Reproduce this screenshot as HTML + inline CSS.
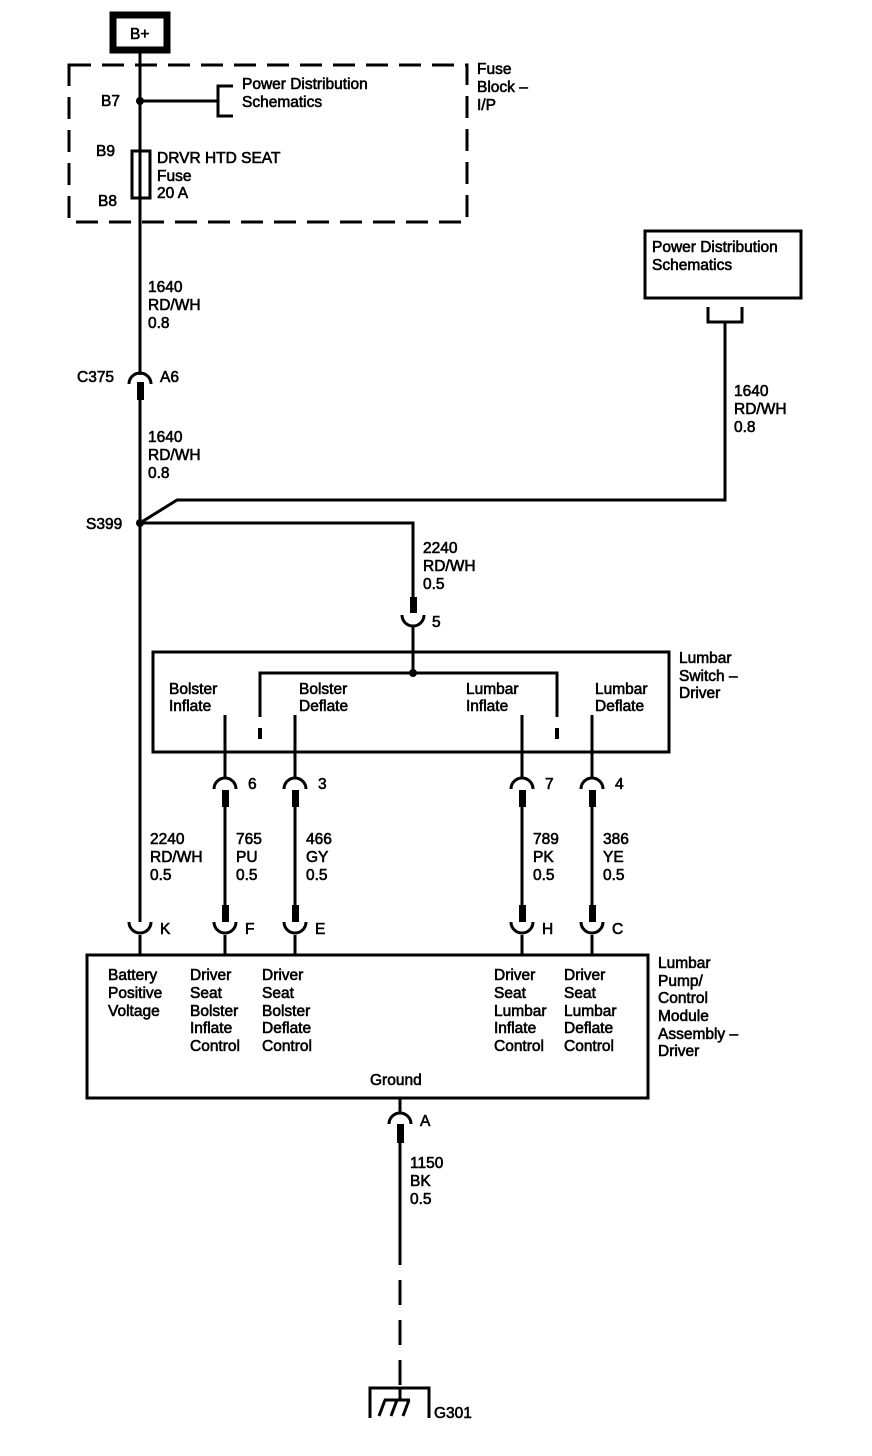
<!DOCTYPE html>
<html><head><meta charset="utf-8"><style>
html,body{margin:0;padding:0;background:#fff}
svg{display:block}
text{font-family:"Liberation Sans",Arial,sans-serif;font-size:15.5px;fill:#000;stroke:#000;stroke-width:0.6}
</style></head><body>
<svg width="872" height="1456" viewBox="0 0 872 1456" xmlns="http://www.w3.org/2000/svg">
<g fill="none" stroke="#000" stroke-width="3">
<rect x="113" y="15" width="54" height="35" stroke-width="7"/>
<rect x="69" y="65" width="398" height="157" stroke-dasharray="22,11"/>
<line x1="140" y1="52" x2="140" y2="375"/>
<line x1="140" y1="400" x2="140" y2="922"/>
<line x1="140" y1="101" x2="218" y2="101"/>
<polyline points="233,86 218,86 218,116 233,116"/>
<rect x="132" y="151" width="18" height="47"/>
<polyline points="140,523 177,500 725,500 725,322"/>
<polyline points="708,307 708,322 742,322 742,307"/>
<rect x="645" y="231" width="156" height="67"/>
<polyline points="140,523 413,523 413,597"/>
<line x1="413" y1="627" x2="413" y2="672"/>
<rect x="153" y="652" width="516" height="100"/>
<polyline points="260,717 260,673 557,673 557,717"/>
<line x1="225" y1="715" x2="225" y2="777"/>
<line x1="295" y1="715" x2="295" y2="777"/>
<line x1="522" y1="715" x2="522" y2="777"/>
<line x1="592" y1="715" x2="592" y2="777"/>
<line x1="225" y1="790" x2="225" y2="922"/>
<line x1="295" y1="790" x2="295" y2="922"/>
<line x1="522" y1="790" x2="522" y2="922"/>
<line x1="592" y1="790" x2="592" y2="922"/>
<line x1="140" y1="935" x2="140" y2="955"/>
<line x1="225" y1="935" x2="225" y2="955"/>
<line x1="295" y1="935" x2="295" y2="955"/>
<line x1="522" y1="935" x2="522" y2="955"/>
<line x1="592" y1="935" x2="592" y2="955"/>
<rect x="87" y="955" width="561" height="143"/>
<line x1="400" y1="1098" x2="400" y2="1112"/>
<line x1="400" y1="1127" x2="400" y2="1240"/>
<line x1="400" y1="1240" x2="400" y2="1390" stroke-dasharray="25,15"/>
<polyline points="370,1418 370,1388 429,1388 429,1418"/>
<line x1="400" y1="1388" x2="400" y2="1400"/>
<path d="M379,1416 L385,1400 M391,1416 L397,1400 M403,1416 L409,1400 M384,1400 L410,1400" stroke-width="3"/>
<path d="M129,384 A11 11 0 0 1 151,384"/>
<path d="M214,789 A11 11 0 0 1 236,789"/>
<path d="M284,789 A11 11 0 0 1 306,789"/>
<path d="M511,789 A11 11 0 0 1 533,789"/>
<path d="M581,789 A11 11 0 0 1 603,789"/>
<path d="M389,1124 A11 11 0 0 1 411,1124"/>
<path d="M402,615 A11 11 0 0 0 424,615"/>
<path d="M129,922 A11 11 0 0 0 151,922"/>
<path d="M214,922 A11 11 0 0 0 236,922"/>
<path d="M284,922 A11 11 0 0 0 306,922"/>
<path d="M511,922 A11 11 0 0 0 533,922"/>
<path d="M581,922 A11 11 0 0 0 603,922"/>
</g>
<g fill="#000">
<circle cx="140" cy="101" r="4"/>
<circle cx="140" cy="523" r="4"/>
<circle cx="413" cy="673" r="4"/>
<rect x="258" y="728" width="4" height="11"/>
<rect x="555" y="728" width="4" height="11"/>
<rect x="137" y="382" width="7" height="18"/>
<rect x="410" y="597" width="7" height="16"/>
<rect x="222" y="790" width="7" height="17"/>
<rect x="292" y="790" width="7" height="17"/>
<rect x="519" y="790" width="7" height="17"/>
<rect x="589" y="790" width="7" height="17"/>
<rect x="222" y="905" width="7" height="17"/>
<rect x="292" y="905" width="7" height="17"/>
<rect x="519" y="905" width="7" height="17"/>
<rect x="589" y="905" width="7" height="17"/>
<rect x="397" y="1124" width="7" height="19"/>
</g>
<text x="130" y="39">B+</text>
<text x="101" y="106">B7</text>
<text x="96" y="156">B9</text>
<text x="98" y="206">B8</text>
<text x="242" y="89">Power Distribution</text>
<text x="242" y="107">Schematics</text>
<text x="157" y="163">DRVR HTD SEAT</text>
<text x="157" y="181">Fuse</text>
<text x="157" y="198">20 A</text>
<text x="477" y="74">Fuse</text>
<text x="477" y="92">Block –</text>
<text x="477" y="110">I/P</text>
<text x="148" y="292">1640</text>
<text x="148" y="310">RD/WH</text>
<text x="148" y="328">0.8</text>
<text x="77" y="382">C375</text>
<text x="160" y="382">A6</text>
<text x="148" y="442">1640</text>
<text x="148" y="460">RD/WH</text>
<text x="148" y="478">0.8</text>
<text x="86" y="529">S399</text>
<text x="652" y="252">Power Distribution</text>
<text x="652" y="270">Schematics</text>
<text x="734" y="396">1640</text>
<text x="734" y="414">RD/WH</text>
<text x="734" y="432">0.8</text>
<text x="423" y="553">2240</text>
<text x="423" y="571">RD/WH</text>
<text x="423" y="589">0.5</text>
<text x="432" y="627">5</text>
<text x="679" y="663">Lumbar</text>
<text x="679" y="681">Switch –</text>
<text x="679" y="698">Driver</text>
<text x="169" y="694">Bolster</text>
<text x="169" y="711">Inflate</text>
<text x="299" y="694">Bolster</text>
<text x="299" y="711">Deflate</text>
<text x="466" y="694">Lumbar</text>
<text x="466" y="711">Inflate</text>
<text x="595" y="694">Lumbar</text>
<text x="595" y="711">Deflate</text>
<text x="248" y="789">6</text>
<text x="318" y="789">3</text>
<text x="545" y="789">7</text>
<text x="615" y="789">4</text>
<text x="150" y="844">2240</text>
<text x="150" y="862">RD/WH</text>
<text x="150" y="880">0.5</text>
<text x="236" y="844">765</text>
<text x="236" y="862">PU</text>
<text x="236" y="880">0.5</text>
<text x="306" y="844">466</text>
<text x="306" y="862">GY</text>
<text x="306" y="880">0.5</text>
<text x="533" y="844">789</text>
<text x="533" y="862">PK</text>
<text x="533" y="880">0.5</text>
<text x="603" y="844">386</text>
<text x="603" y="862">YE</text>
<text x="603" y="880">0.5</text>
<text x="160" y="934">K</text>
<text x="245" y="934">F</text>
<text x="315" y="934">E</text>
<text x="542" y="934">H</text>
<text x="612" y="934">C</text>
<text x="108" y="980">Battery</text>
<text x="108" y="998">Positive</text>
<text x="108" y="1016">Voltage</text>
<text x="190" y="980">Driver</text>
<text x="190" y="998">Seat</text>
<text x="190" y="1016">Bolster</text>
<text x="190" y="1033">Inflate</text>
<text x="190" y="1051">Control</text>
<text x="262" y="980">Driver</text>
<text x="262" y="998">Seat</text>
<text x="262" y="1016">Bolster</text>
<text x="262" y="1033">Deflate</text>
<text x="262" y="1051">Control</text>
<text x="494" y="980">Driver</text>
<text x="494" y="998">Seat</text>
<text x="494" y="1016">Lumbar</text>
<text x="494" y="1033">Inflate</text>
<text x="494" y="1051">Control</text>
<text x="564" y="980">Driver</text>
<text x="564" y="998">Seat</text>
<text x="564" y="1016">Lumbar</text>
<text x="564" y="1033">Deflate</text>
<text x="564" y="1051">Control</text>
<text x="370" y="1085">Ground</text>
<text x="658" y="968">Lumbar</text>
<text x="658" y="986">Pump/</text>
<text x="658" y="1003">Control</text>
<text x="658" y="1021">Module</text>
<text x="658" y="1039">Assembly –</text>
<text x="658" y="1056">Driver</text>
<text x="420" y="1126">A</text>
<text x="410" y="1168">1150</text>
<text x="410" y="1186">BK</text>
<text x="410" y="1204">0.5</text>
<text x="434" y="1418">G301</text>
</svg>
</body></html>
